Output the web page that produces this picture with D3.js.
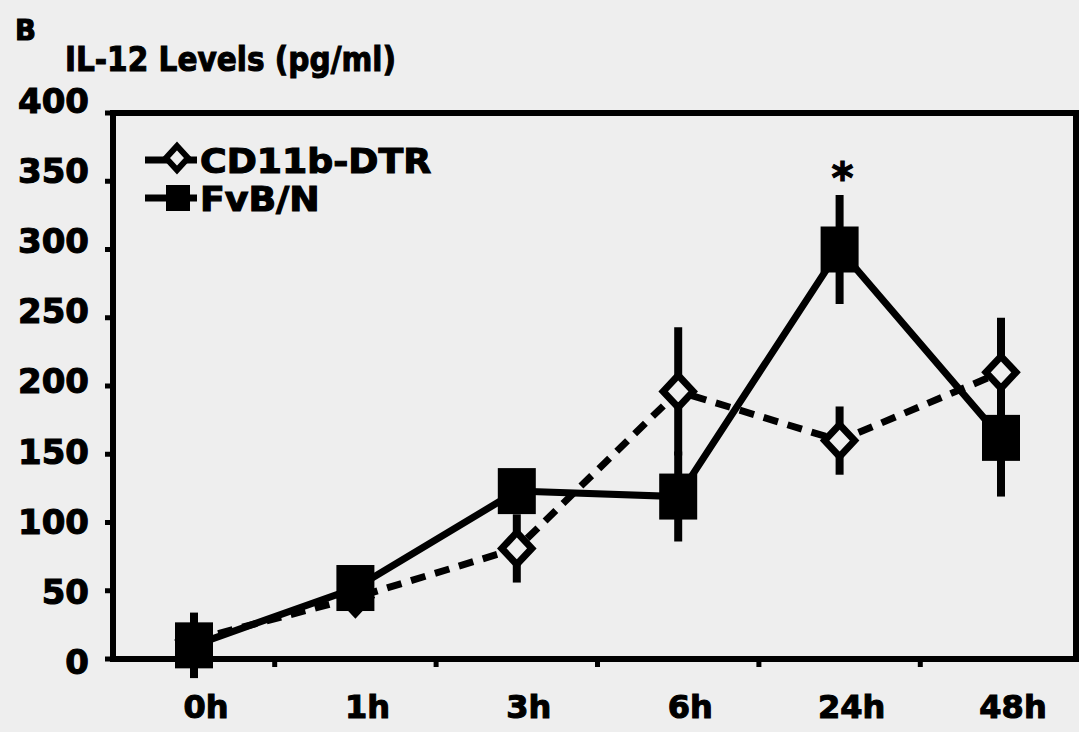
<!DOCTYPE html>
<html>
<head>
<meta charset="utf-8">
<script src="https://cdn.jsdelivr.net/npm/d3@7"></script>
<style>
  html, body { margin: 0; padding: 0; background: #eeeeee; }
  svg { display: block; }
  text { font-family: "DejaVu Sans", Verdana, sans-serif; font-weight: bold; fill: #000;
         stroke: #000; stroke-width: 1.1px; }
</style>
</head>
<body>
<div id="chart"></div>
<script>
// data
const hours = ["0h", "1h", "3h", "6h", "24h", "48h"];
const cd11b = [14, 45, 81, 196, 160, 210];
const cd11bErr = [10, 8, 25, 47, 25, 40];
const fvb = [10, 52, 123, 119, 300, 162];
const fvbErr = [24, 6, 10, 33, 40, 43];
const yTicks = [0, 50, 100, 150, 200, 250, 300, 350, 400];
const signif = ["24h"];

const W = 1079, H = 732;
const plot = { left: 113, right: 1076, top: 113, bottom: 659 };

const svg = d3.select("#chart").append("svg")
    .attr("width", W)
    .attr("height", H);

const x = d3.scalePoint()
    .domain(hours)
    .range([194, 1001]);

const y = d3.scaleLinear()
    .domain([0, 400])
    .range([plot.bottom, plot.top]);

// labels on the y axis sit a bit higher the further up they are
const yLab = d3.scaleLinear()
    .domain([0, 400])
    .range([plot.bottom + 3, plot.top - 12]);

// bold text with a horizontal squeeze/stretch to match the original font
function wideText(g, px, py, str, size, anchor, sx) {
    return g.append("text")
        .attr("transform", `translate(${px},${py}) scale(${sx},1)`)
        .attr("text-anchor", anchor || "start")
        .style("font-size", size + "px")
        .text(str);
}

wideText(svg, 15, 40, "B", 29, "start", 0.95);
wideText(svg, 65, 71, "IL-12 Levels (pg/ml)", 34, "start", 0.87);

// frame
svg.append("rect")
    .attr("x", plot.left)
    .attr("y", plot.top)
    .attr("width", plot.right - plot.left)
    .attr("height", plot.bottom - plot.top)
    .attr("fill", "none")
    .attr("stroke", "#000")
    .attr("stroke-width", 6);

// y ticks + labels
svg.append("g").selectAll("line")
    .data(yTicks)
    .join("line")
    .attr("x1", plot.left - 8)
    .attr("x2", plot.left)
    .attr("y1", d => y(d))
    .attr("y2", d => y(d))
    .attr("stroke", "#000")
    .attr("stroke-width", 5);

const yg = svg.append("g");
yTicks.forEach(t => {
    wideText(yg, 89, yLab(t), String(t), 33, "end", 1.03).attr("dy", "0.36em");
});

// x ticks between categories + labels
const step = x.step();
const xTickPos = hours.slice(1).map(h => x(h) - step / 2);
svg.append("g").selectAll("line")
    .data(xTickPos)
    .join("line")
    .attr("x1", d => d)
    .attr("x2", d => d)
    .attr("y1", plot.bottom)
    .attr("y2", plot.bottom + 8)
    .attr("stroke", "#000")
    .attr("stroke-width", 5);

const xg = svg.append("g");
hours.forEach(h => {
    wideText(xg, x(h) + 12, 718, h, 32, "middle", 1.0);
});

// series
const cdData = hours.map((h, i) => ({ h: h, v: cd11b[i], e: cd11bErr[i] }));
const fvData = hours.map((h, i) => ({ h: h, v: fvb[i], e: fvbErr[i] }));

const line = d3.line()
    .x(d => x(d.h))
    .y(d => y(d.v));

svg.append("path")
    .datum(cdData)
    .attr("d", line)
    .attr("fill", "none")
    .attr("stroke", "#000")
    .attr("stroke-width", 7)
    .attr("stroke-dasharray", "15,10");

svg.append("path")
    .datum(fvData)
    .attr("d", line)
    .attr("fill", "none")
    .attr("stroke", "#000")
    .attr("stroke-width", 7);

// error bars, no caps
[cdData, fvData].forEach(data => {
    svg.append("g").selectAll("line")
        .data(data)
        .join("line")
        .attr("x1", d => x(d.h))
        .attr("x2", d => x(d.h))
        .attr("y1", d => y(d.v + d.e))
        .attr("y2", d => y(d.v - d.e))
        .attr("stroke", "#000")
        .attr("stroke-width", 8);
});

// markers
function diamondPath(cx, cy, hw, hh) {
    return `M${cx},${cy - hh}L${cx + hw},${cy}L${cx},${cy + hh}L${cx - hw},${cy}Z`;
}

svg.append("g").selectAll("path")
    .data(cdData)
    .join("path")
    .attr("d", d => diamondPath(x(d.h), y(d.v), 15, 16))
    .attr("fill", "#eeeeee")
    .attr("stroke", "#000")
    .attr("stroke-width", 7);

svg.append("g").selectAll("rect")
    .data(fvData)
    .join("rect")
    .attr("x", d => x(d.h) - 19)
    .attr("y", d => y(d.v) - 23)
    .attr("width", 38)
    .attr("height", 46)
    .attr("fill", "#000");

// significance star
signif.forEach(h => {
    const i = hours.indexOf(h);
    svg.append("text")
        .attr("x", x(h) + 3)
        .attr("y", y(fvb[i] + fvbErr[i]) - 2)
        .attr("text-anchor", "middle")
        .style("font-size", "42px")
        .text("*");
});

// legend
const legend = svg.append("g");
const legItems = [
    { name: "CD11b-DTR", y: 160, type: "diamond" },
    { name: "FvB/N", y: 198, type: "square" }
];
legItems.forEach(it => {
    legend.append("line")
        .attr("x1", 145).attr("x2", 197)
        .attr("y1", it.y).attr("y2", it.y)
        .attr("stroke", "#000")
        .attr("stroke-width", 7);
    if (it.type === "diamond") {
        legend.append("path")
            .attr("d", diamondPath(177, it.y - 2, 11, 12))
            .attr("fill", "#eeeeee")
            .attr("stroke", "#000")
            .attr("stroke-width", 6);
    } else {
        legend.append("rect")
            .attr("x", 166).attr("y", it.y - 13)
            .attr("width", 24).attr("height", 26)
            .attr("fill", "#000");
    }
    wideText(legend, 200, it.y + 13, it.name, 33, "start", 1.1);
});
</script>
</body>
</html>
